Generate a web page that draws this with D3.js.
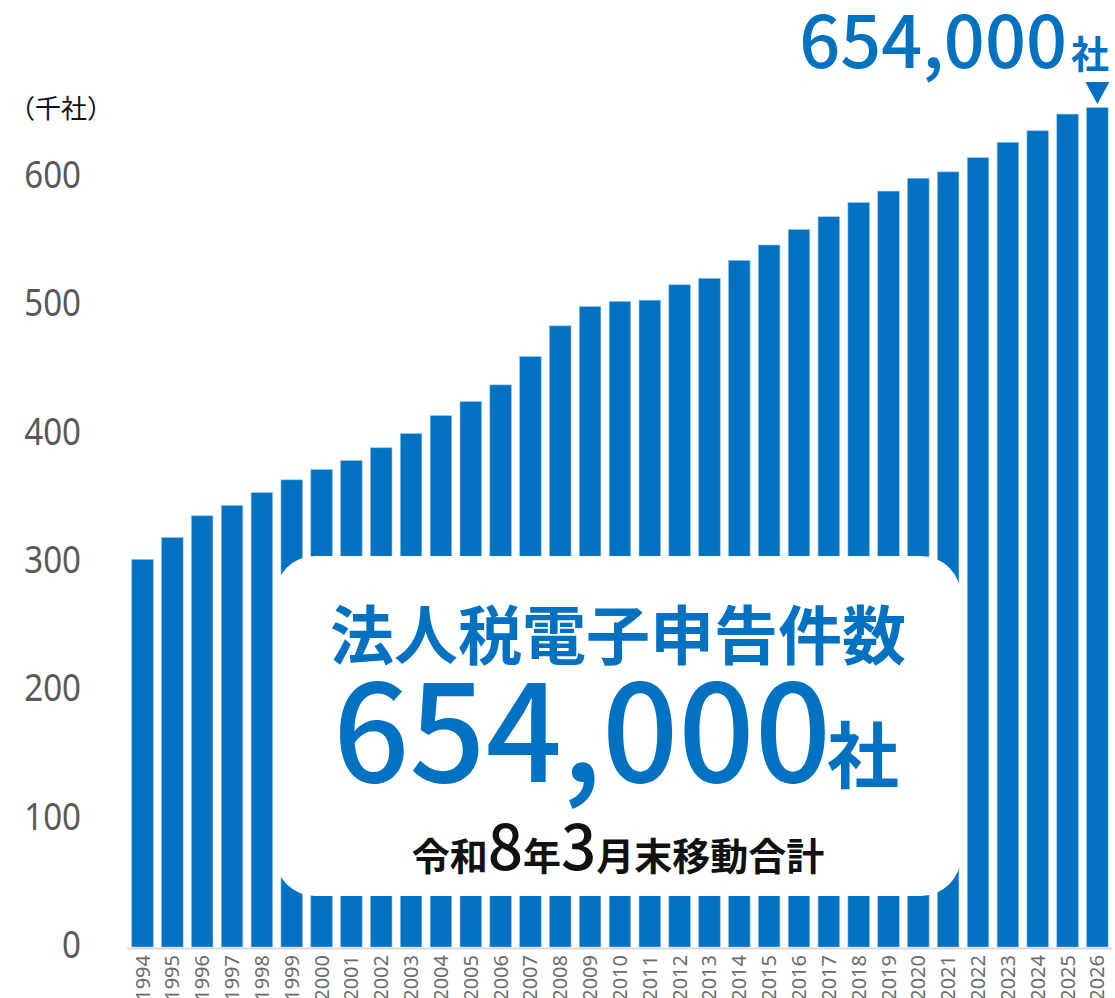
<!DOCTYPE html>
<html>
<head>
<meta charset="utf-8">
<script src="https://cdn.jsdelivr.net/npm/d3@7"></script>
<style>
  body { margin: 0; background: #fff; }
  svg { display: block; }
</style>
</head>
<body>
<div id="chart"></div>
<script>
const years = ['1994', '1995', '1996', '1997', '1998', '1999', '2000', '2001', '2002', '2003', '2004',
  '2005', '2006', '2007', '2008', '2009', '2010', '2011', '2012', '2013', '2014', '2015', '2016',
  '2017', '2018', '2019', '2020', '2021', '2022', '2023', '2024', '2025', '2026']
const counts = [302, 319, 336, 344, 354, 364, 372, 379, 389, 400, 414, 425, 438, 460, 484, 499,
  503, 504, 516, 521, 535, 547, 559, 569, 580, 589, 599, 604, 615, 627, 636, 649, 654]
const yTicks = [0, 100, 200, 300, 400, 500, 600]
const unitLabel = '（千社）'
const totalLabel = '654,000'
const titleLabel = '法人税電子申告件数'

const blue = '#0072c1'
const jp = '"Noto Sans CJK JP", "Noto Sans", sans-serif'

const width = 1115
const height = 998

const data = years.map((y, i) => ({ year: y, value: counts[i] }))

const svg = d3.select('#chart')
  .append('svg')
  .attr('width', width)
  .attr('height', height)

const x = d3.scaleBand()
  .domain(years)
  .range([127.6, 1112.3])
  .paddingInner(0.28)
  .paddingOuter(0.14)

const y = d3.scaleLinear()
  .domain([0, 600])
  .range([947, 177])

// y tick labels, no axis line (glyphs are a bit narrow and tall in the original)
svg.append('g')
  .selectAll('text')
  .data(yTicks)
  .join('text')
  .attr('transform', d => `translate(81,${y(d) + 11}) scale(0.87,1)`)
  .attr('text-anchor', 'end')
  .attr('font-family', '"Noto Sans", sans-serif')
  .attr('font-size', 38)
  .attr('fill', '#595959')
  .text(d => d)

svg.append('text')
  .attr('x', 9)
  .attr('y', 118)
  .attr('font-family', jp)
  .attr('font-size', 26)
  .attr('fill', '#111')
  .text(unitLabel)

// bars
svg.append('g')
  .selectAll('rect')
  .data(data)
  .join('rect')
  .attr('x', d => x(d.year))
  .attr('y', d => y(d.value))
  .attr('width', x.bandwidth())
  .attr('height', d => y(0) - y(d.value))
  .attr('fill', blue)
  .attr('stroke', '#8fbde6')
  .attr('stroke-width', 0.6)

// baseline
svg.append('line')
  .attr('x1', 127)
  .attr('x2', 1112)
  .attr('y1', y(0) + 1.5)
  .attr('y2', y(0) + 1.5)
  .attr('stroke', '#d9d9d9')
  .attr('stroke-width', 2)

// year labels rotated
svg.append('g')
  .selectAll('text')
  .data(years)
  .join('text')
  .attr('transform', d => `translate(${x(d) + x.bandwidth() / 2 + 7},${y(0) + 8}) rotate(-90)`)
  .attr('text-anchor', 'end')
  .attr('font-family', '"Noto Sans", sans-serif')
  .attr('font-size', 20)
  .attr('fill', '#6b6b6b')
  .text(d => d)

// callout above last bar
const last = data[data.length - 1]
const lx = x(last.year) + x.bandwidth() / 2
svg.append('path')
  .attr('d', d3.line()([[lx - 12, 82], [lx + 12, 82], [lx, 104]]) + 'Z')
  .attr('fill', blue)

const topLabel = svg.append('text')
  .attr('x', 1109)
  .attr('y', 68)
  .attr('text-anchor', 'end')
  .attr('font-family', jp)
  .attr('font-weight', 500)
  .attr('fill', blue)
topLabel.append('tspan').attr('font-size', 72).text(totalLabel)
topLabel.append('tspan').attr('font-size', 38).attr('font-weight', 700).attr('dx', 4).text('社')

// info box
const box = { x: 275, y: 556, w: 686, h: 340 }
svg.append('rect')
  .attr('x', box.x)
  .attr('y', box.y)
  .attr('width', box.w)
  .attr('height', box.h)
  .attr('rx', 40)
  .attr('fill', '#fff')

const cx = box.x + box.w / 2

svg.append('text')
  .attr('x', cx)
  .attr('y', 659)
  .attr('text-anchor', 'middle')
  .attr('font-family', jp)
  .attr('font-weight', 700)
  .attr('font-size', 64)
  .attr('fill', blue)
  .text(titleLabel)

const big = svg.append('text')
  .attr('x', cx - 2)
  .attr('y', 782)
  .attr('text-anchor', 'middle')
  .attr('font-family', jp)
  .attr('font-weight', 500)
  .attr('fill', blue)
big.append('tspan').attr('font-size', 134).text(totalLabel)
big.append('tspan').attr('font-size', 72).attr('font-weight', 700).attr('dx', -4).text('社')

const note = svg.append('text')
  .attr('x', cx)
  .attr('y', 870)
  .attr('text-anchor', 'middle')
  .attr('font-family', jp)
  .attr('font-weight', 700)
  .attr('font-size', 38)
  .attr('fill', '#111')
note.append('tspan').text('令和')
note.append('tspan').attr('font-size', 62).attr('font-weight', 500).text('8')
note.append('tspan').text('年')
note.append('tspan').attr('font-size', 62).attr('font-weight', 500).text('3')
note.append('tspan').text('月末移動合計')
</script>
</body>
</html>
